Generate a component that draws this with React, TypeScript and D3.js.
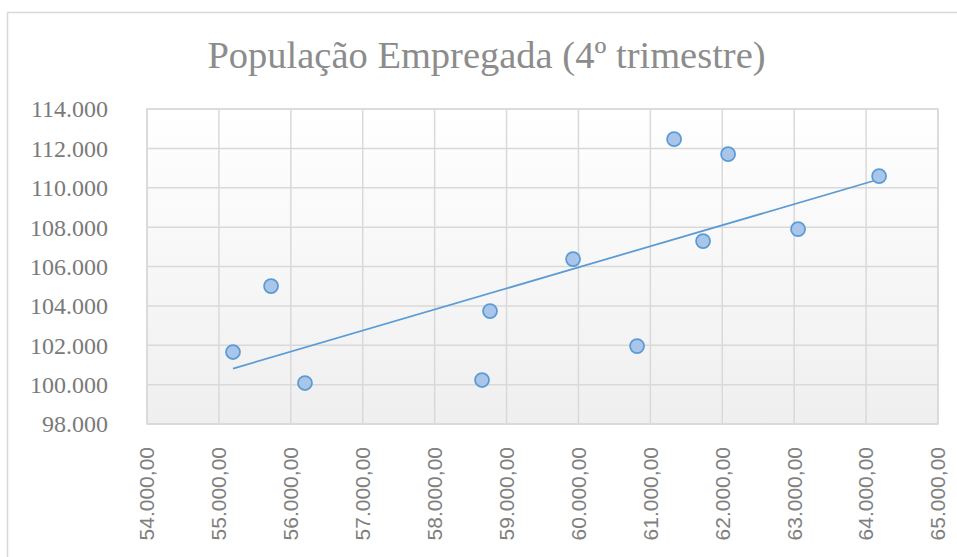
import React from "react";
import { scaleLinear, range, mean, sum } from "d3";

// data
const empregoX = [55196, 55725, 56197, 58659, 58770, 59925, 60815, 61330, 61733, 62081, 63054, 64181];
const empregoY = [101655, 105005, 100081, 100234, 103736, 106376, 101959, 112467, 107289, 111706, 107898, 110589];
const xTicks = range(54000, 65001, 1000);
const yTicks = range(98000, 114001, 2000);

const fmtThousands = (v: number) =>
  Math.round(v).toString().replace(/\B(?=(\d{3})+(?!\d))/g, ".");

const serifFont = "'Liberation Serif', 'DejaVu Serif', serif";

export default function App() {
  const width = 957;
  const height = 557;
  const plot = { left: 147, top: 109, right: 938, bottom: 424 };

  const x = scaleLinear().domain([54000, 65000]).range([plot.left, plot.right]);
  const y = scaleLinear().domain([98000, 114000]).range([plot.bottom, plot.top]);

  // linear trend line (least squares)
  const mx = mean(empregoX) as number;
  const my = mean(empregoY) as number;
  const slope =
    sum(empregoX.map((v, i) => (v - mx) * (empregoY[i] - my))) /
    sum(empregoX.map((v) => (v - mx) * (v - mx)));
  const intercept = my - slope * mx;
  const x0 = Math.min(...empregoX);
  const x1 = Math.max(...empregoX);

  const grid = "#d9d9d9";

  return (
    <svg
      width={width}
      height={height}
      style={{ position: "fixed", left: 0, top: 0 }}
    >
      <defs>
        <linearGradient id="plotBg" x1="0" y1="0" x2="0" y2="1">
          <stop offset="0%" stopColor="#ffffff" />
          <stop offset="100%" stopColor="#efefef" />
        </linearGradient>
      </defs>
      <rect width={width} height={height} fill="#fff" />
      <rect x={7.5} y={12.5} width={960} height={560} fill="#fff" stroke={grid} strokeWidth={1.5} />

      <text
        x={486.5}
        y={68}
        textAnchor="middle"
        style={{ fontFamily: serifFont }}
        fontSize={38.5}
        fill="#8c8c8c"
      >
        População Empregada (4º trimestre)
      </text>

      <rect
        x={plot.left}
        y={plot.top}
        width={plot.right - plot.left}
        height={plot.bottom - plot.top}
        fill="url(#plotBg)"
      />
      {xTicks.map((t) => (
        <line key={`gx${t}`} x1={x(t)} x2={x(t)} y1={plot.top} y2={plot.bottom} stroke={grid} strokeWidth={1.5} />
      ))}
      {yTicks.map((t) => (
        <line key={`gy${t}`} x1={plot.left} x2={plot.right} y1={y(t)} y2={y(t)} stroke={grid} strokeWidth={1.5} />
      ))}
      <rect
        x={plot.left}
        y={plot.top}
        width={plot.right - plot.left}
        height={plot.bottom - plot.top}
        fill="none"
        stroke={grid}
        strokeWidth={1.5}
      />

      {yTicks.map((t) => (
        <text
          key={`ly${t}`}
          x={108}
          y={y(t)}
          dy="0.35em"
          textAnchor="end"
          style={{ fontFamily: serifFont }}
          fontSize={24}
          fill="#7a7a7a"
        >
          {fmtThousands(t)}
        </text>
      ))}
      {xTicks.map((t) => (
        <text
          key={`lx${t}`}
          transform={`translate(${x(t)},447) rotate(-90)`}
          dy="0.35em"
          textAnchor="end"
          style={{ fontFamily: "'Liberation Sans', Arial, sans-serif" }}
          fontSize={21}
          fill="#808080"
        >
          {fmtThousands(t) + ",00"}
        </text>
      ))}

      <line
        x1={x(x0)}
        y1={y(slope * x0 + intercept)}
        x2={x(x1)}
        y2={y(slope * x1 + intercept)}
        stroke="#5b9bd5"
        strokeWidth={1.75}
      />

      {empregoX.map((v, i) => (
        <circle
          key={`p${i}`}
          cx={x(v)}
          cy={y(empregoY[i])}
          r={7}
          fill="#a9c6ea"
          stroke="#5b9bd5"
          strokeWidth={1.75}
        />
      ))}
    </svg>
  );
}
